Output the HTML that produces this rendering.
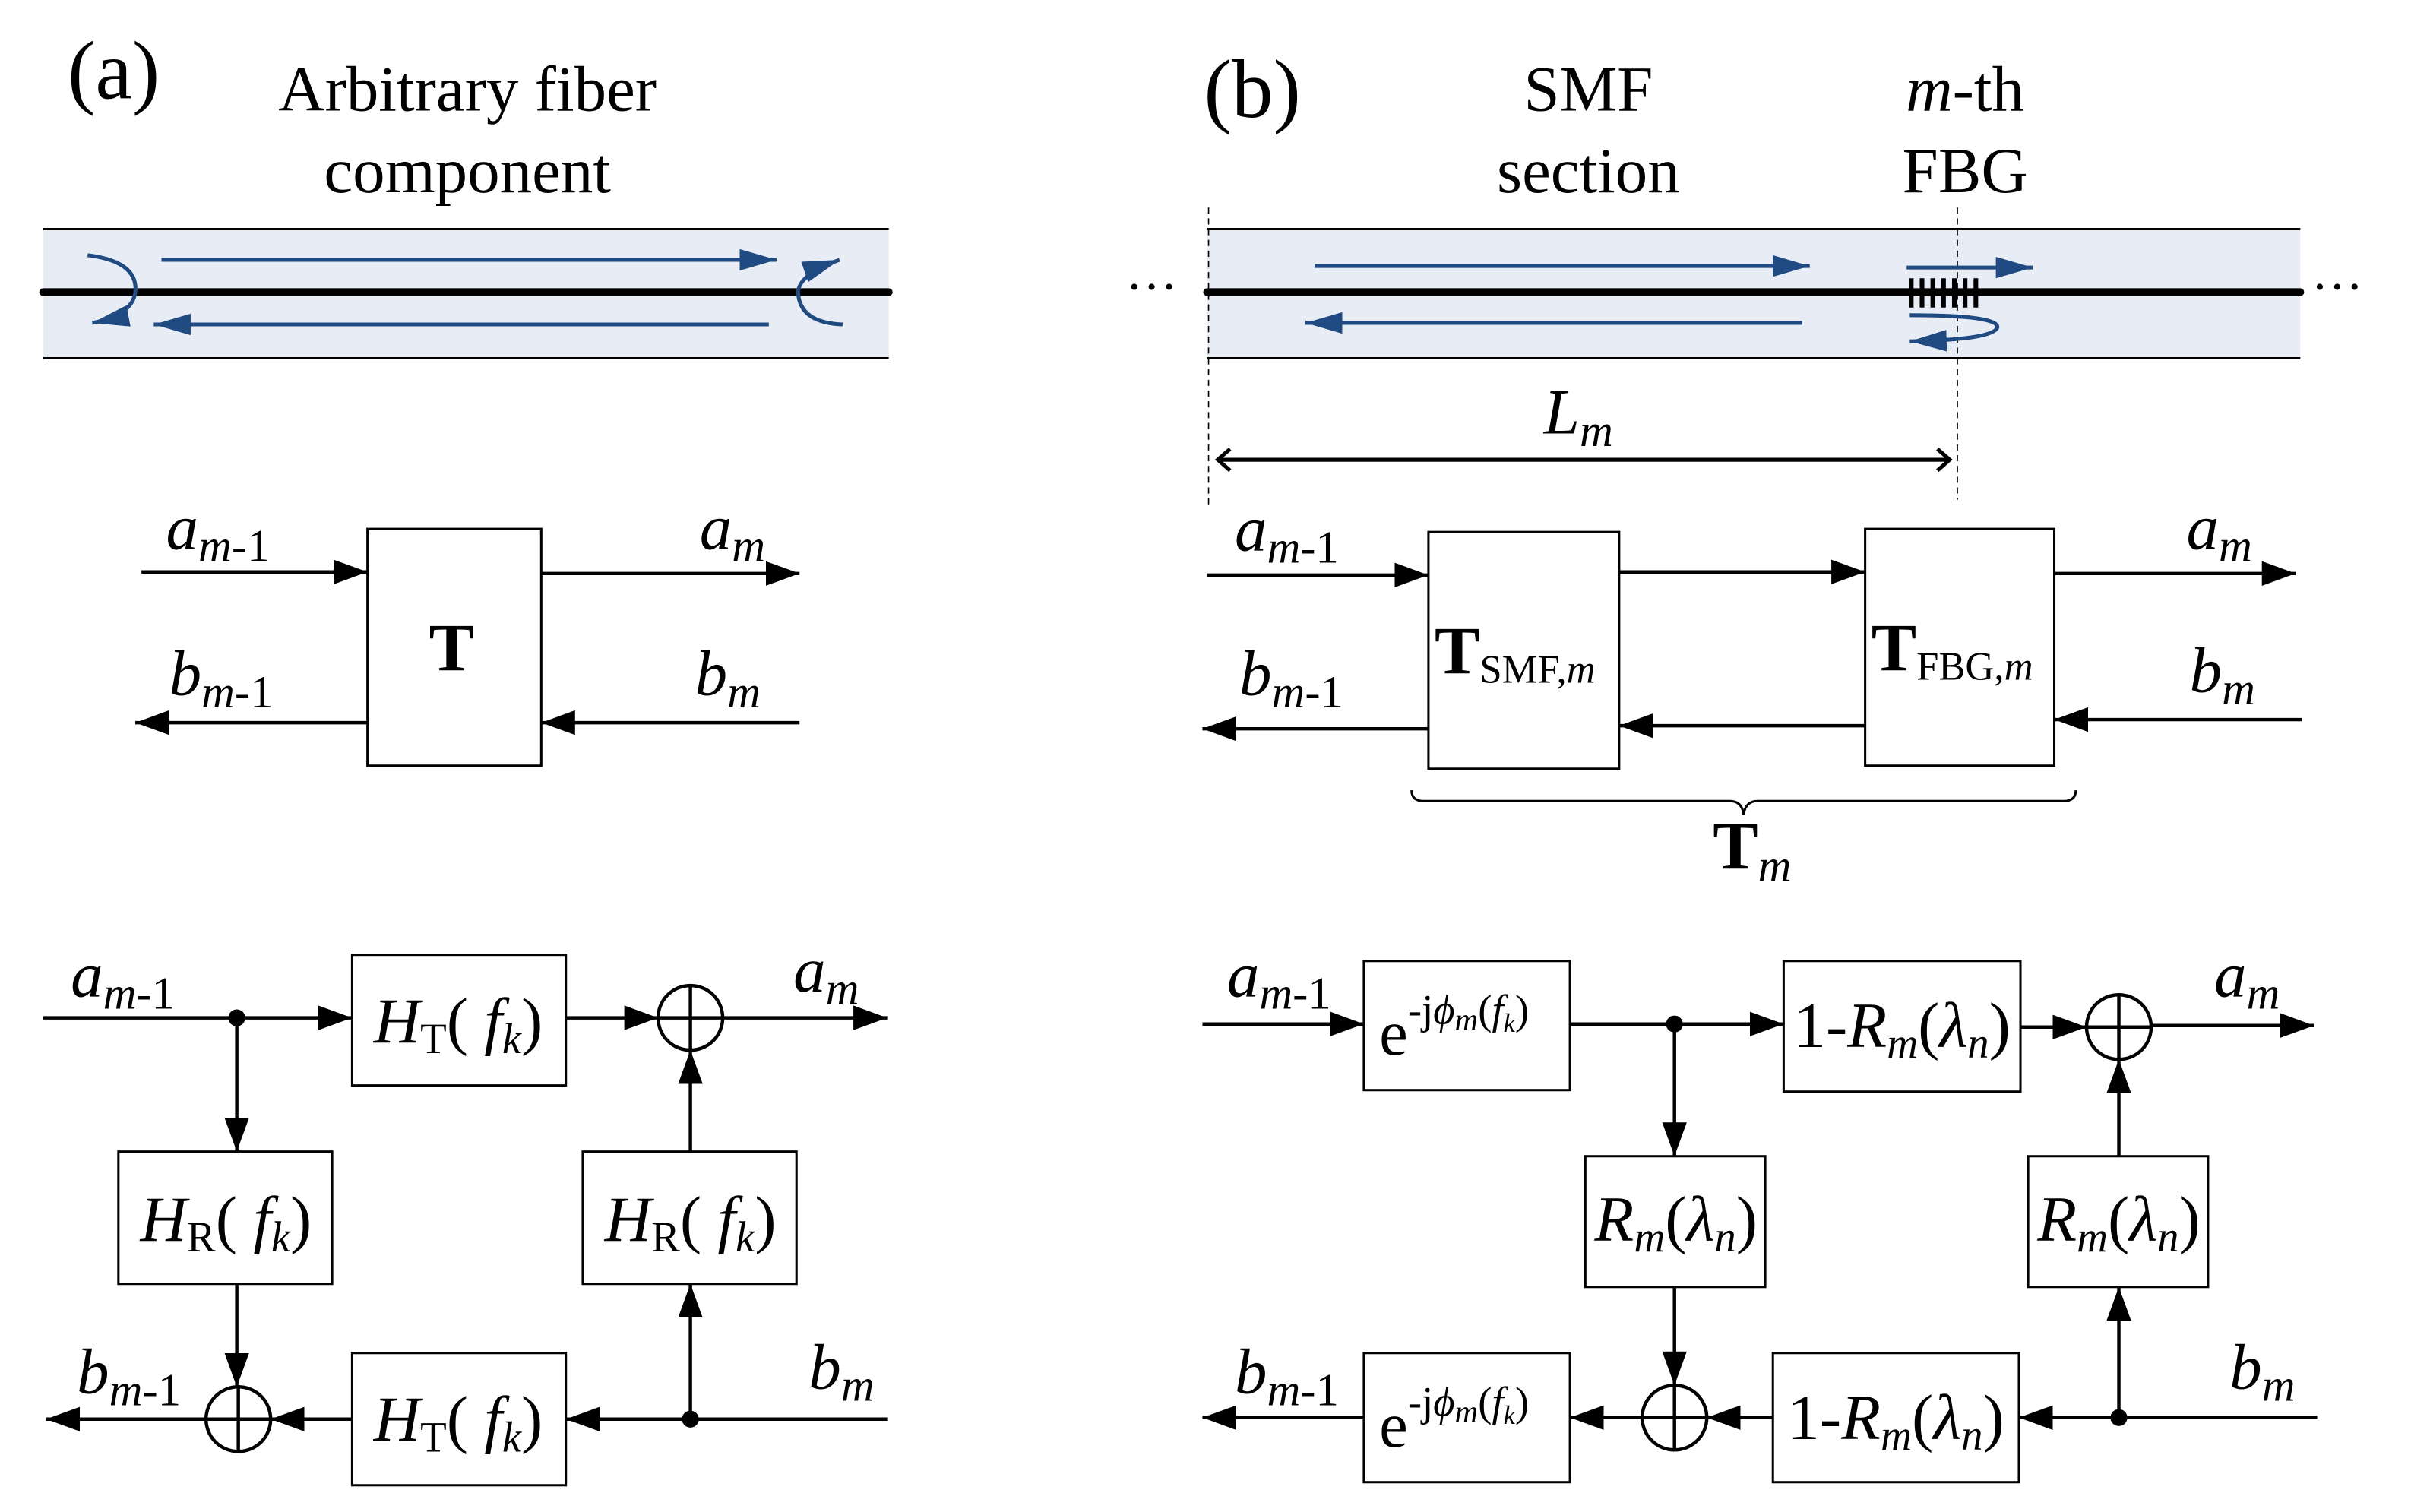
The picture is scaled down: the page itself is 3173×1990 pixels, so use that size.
<!DOCTYPE html>
<html><head><meta charset="utf-8"><style>
html,body{margin:0;padding:0;background:#fff}
svg{display:block}
text{font-family:"Liberation Serif","Times New Roman",serif;fill:#000}
.i{font-style:italic}
</style></head><body>
<svg width="3173" height="1990" viewBox="0 0 1568 983.4" preserveAspectRatio="none" xmlns="http://www.w3.org/2000/svg">
<defs>
<marker id="ah" markerUnits="userSpaceOnUse" markerWidth="24" markerHeight="18" refX="22" refY="9" orient="auto"><path d="M0,1 L22,9 L0,17 z" fill="#000"/></marker>
<marker id="bh" markerUnits="userSpaceOnUse" markerWidth="26" markerHeight="16" refX="24" refY="8" orient="auto"><path d="M0,1 L24,8 L0,15 z" fill="#1f4a82"/></marker>
<marker id="ch" markerUnits="userSpaceOnUse" markerWidth="14" markerHeight="16" refX="10" refY="8" orient="auto"><path d="M2,1 L10,8 L2,15" fill="none" stroke="#000" stroke-width="2.5"/></marker>
</defs>
<g stroke="#000" stroke-width="2.2" fill="none">
<rect x="28" y="149" width="550" height="84" fill="#e8edf5" stroke="none"/>
<line x1="28" y1="149" x2="578" y2="149" stroke-width="1.5"/>
<line x1="28" y1="233" x2="578" y2="233" stroke-width="1.5"/>
<line x1="28" y1="190" x2="578" y2="190" stroke-width="5" stroke-linecap="round"/>
<g stroke="#1f4a82" stroke-width="2.5">
<line x1="105" y1="169" x2="505" y2="169" marker-end="url(#bh)"/>
<line x1="500" y1="211" x2="100" y2="211" marker-end="url(#bh)"/>
<path d="M57,166 Q90,170 88,190 Q86,205 60,210" marker-end="url(#bh)"/>
<path d="M548,211 Q520,210 519,190 Q520,178 546,169" marker-end="url(#bh)"/>
</g>
<rect x="239" y="344" width="113" height="154" stroke-width="1.5"/>
<line x1="92" y1="372" x2="239" y2="372" marker-end="url(#ah)"/>
<line x1="352" y1="373" x2="520" y2="373" marker-end="url(#ah)"/>
<line x1="239" y1="470" x2="88" y2="470" marker-end="url(#ah)"/>
<line x1="520" y1="470" x2="352" y2="470" marker-end="url(#ah)"/>
<rect x="229" y="621" width="139" height="85" stroke-width="1.5"/>
<rect x="77" y="749" width="139" height="86" stroke-width="1.5"/>
<rect x="379" y="749" width="139" height="86" stroke-width="1.5"/>
<rect x="229" y="880" width="139" height="86" stroke-width="1.5"/>
<circle cx="449" cy="662" r="21"/><line x1="428" y1="662" x2="470" y2="662"/><line x1="449" y1="641" x2="449" y2="683"/>
<circle cx="155" cy="923" r="21"/><line x1="134" y1="923" x2="176" y2="923"/><line x1="155" y1="902" x2="155" y2="944"/>
<line x1="28" y1="662" x2="229" y2="662" marker-end="url(#ah)"/>
<line x1="154" y1="662" x2="154" y2="749" marker-end="url(#ah)"/>
<line x1="368" y1="662" x2="428" y2="662" marker-end="url(#ah)"/>
<line x1="470" y1="662" x2="577" y2="662" marker-end="url(#ah)"/>
<line x1="449" y1="749" x2="449" y2="683" marker-end="url(#ah)"/>
<line x1="577" y1="923" x2="368" y2="923" marker-end="url(#ah)"/>
<line x1="449" y1="923" x2="449" y2="835" marker-end="url(#ah)"/>
<line x1="229" y1="923" x2="176" y2="923" marker-end="url(#ah)"/>
<line x1="134" y1="923" x2="30" y2="923" marker-end="url(#ah)"/>
<line x1="154" y1="835" x2="154" y2="902" marker-end="url(#ah)"/>
<rect x="785" y="149" width="711" height="84" fill="#e8edf5" stroke="none"/>
<line x1="785" y1="149" x2="1496" y2="149" stroke-width="1.5"/>
<line x1="785" y1="233" x2="1496" y2="233" stroke-width="1.5"/>
<line x1="785" y1="190" x2="1496" y2="190" stroke-width="5" stroke-linecap="round"/>
<line x1="786" y1="135" x2="786" y2="330" stroke-width="0.8" stroke-dasharray="4,3"/>
<line x1="1273" y1="135" x2="1273" y2="325" stroke-width="0.8" stroke-dasharray="4,3"/>
<g stroke-width="3"><line x1="1243" y1="181" x2="1243" y2="200"/><line x1="1250" y1="181" x2="1250" y2="200"/><line x1="1257" y1="181" x2="1257" y2="200"/><line x1="1264" y1="181" x2="1264" y2="200"/><line x1="1271" y1="181" x2="1271" y2="200"/><line x1="1278" y1="181" x2="1278" y2="200"/><line x1="1285" y1="181" x2="1285" y2="200"/></g>
<g stroke="#1f4a82" stroke-width="2.5">
<line x1="855" y1="173" x2="1177" y2="173" marker-end="url(#bh)"/>
<line x1="1172" y1="210" x2="849" y2="210" marker-end="url(#bh)"/>
<line x1="1240" y1="174" x2="1322" y2="174" marker-end="url(#bh)"/>
<path d="M1242,205 Q1300,205 1299,213 Q1296,221 1242,222" marker-end="url(#bh)"/>
</g>
<line x1="792" y1="299" x2="1268" y2="299" stroke-width="2.5" marker-end="url(#ch)"/>
<line x1="1268" y1="299" x2="792" y2="299" stroke-width="2.5" marker-end="url(#ch)"/>
<rect x="929" y="346" width="124" height="154" stroke-width="1.5"/>
<rect x="1213" y="344" width="123" height="154" stroke-width="1.5"/>
<line x1="785" y1="374" x2="929" y2="374" marker-end="url(#ah)"/>
<line x1="1053" y1="372" x2="1213" y2="372" marker-end="url(#ah)"/>
<line x1="1336" y1="373" x2="1493" y2="373" marker-end="url(#ah)"/>
<line x1="1213" y1="472" x2="1053" y2="472" marker-end="url(#ah)"/>
<line x1="929" y1="474" x2="782" y2="474" marker-end="url(#ah)"/>
<line x1="1497" y1="468" x2="1336" y2="468" marker-end="url(#ah)"/>
<path d="M918,514 Q918,521 926,521 L1125,521 Q1133,521 1134,530 Q1135,521 1143,521 L1342,521 Q1350,521 1350,514" stroke-width="1.5"/>
<rect x="887" y="625" width="134" height="84" stroke-width="1.5"/>
<rect x="1160" y="625" width="154" height="85" stroke-width="1.5"/>
<rect x="1031" y="752" width="117" height="85" stroke-width="1.5"/>
<rect x="1319" y="752" width="117" height="85" stroke-width="1.5"/>
<rect x="887" y="880" width="134" height="84" stroke-width="1.5"/>
<rect x="1153" y="880" width="160" height="84" stroke-width="1.5"/>
<circle cx="1378" cy="668" r="21"/><line x1="1357" y1="668" x2="1399" y2="668"/><line x1="1378" y1="647" x2="1378" y2="689"/>
<circle cx="1089" cy="922" r="21"/><line x1="1068" y1="922" x2="1110" y2="922"/><line x1="1089" y1="901" x2="1089" y2="943"/>
<line x1="782" y1="666" x2="887" y2="666" marker-end="url(#ah)"/>
<line x1="1021" y1="666" x2="1160" y2="666" marker-end="url(#ah)"/>
<line x1="1089" y1="666" x2="1089" y2="752" marker-end="url(#ah)"/>
<line x1="1314" y1="668" x2="1357" y2="668" marker-end="url(#ah)"/>
<line x1="1399" y1="667" x2="1505" y2="667" marker-end="url(#ah)"/>
<line x1="1378" y1="752" x2="1378" y2="689" marker-end="url(#ah)"/>
<line x1="1089" y1="837" x2="1089" y2="901" marker-end="url(#ah)"/>
<line x1="1507" y1="922" x2="1313" y2="922" marker-end="url(#ah)"/>
<line x1="1378" y1="922" x2="1378" y2="837" marker-end="url(#ah)"/>
<line x1="1153" y1="922" x2="1110" y2="922" marker-end="url(#ah)"/>
<line x1="1068" y1="922" x2="1021" y2="922" marker-end="url(#ah)"/>
<line x1="887" y1="922" x2="782" y2="922" marker-end="url(#ah)"/>
</g>
<g fill="#000" stroke="none">
<circle cx="154" cy="662" r="5.5"/><circle cx="449" cy="923" r="5.5"/>
<circle cx="1089" cy="666" r="5.5"/><circle cx="1378" cy="922" r="5.5"/>
</g>
<text x="44" y="64" font-size="54">(a)</text>
<text x="304" y="72" font-size="42" text-anchor="middle">Arbitrary fiber</text>
<text x="304" y="125" font-size="42" text-anchor="middle">component</text>
<text x="783" y="76" font-size="54">(b)</text>
<text x="1033" y="72" font-size="42" text-anchor="middle">SMF</text>
<text x="1033" y="125" font-size="42" text-anchor="middle">section</text>
<text x="1278" y="72" font-size="42" text-anchor="middle"><tspan class="i">m</tspan>-th</text>
<text x="1278" y="125" font-size="42" text-anchor="middle">FBG</text>
<text x="732" y="198" font-size="34">···</text>
<text x="1503" y="198" font-size="34">···</text>
<text x="1004" y="282" font-size="42" class="i">L<tspan font-size="30" dy="8">m</tspan></text>
<text x="279" y="436" font-size="44" font-weight="bold">T</text>
<g font-size="42">
<text x="108" y="357"><tspan class="i">a</tspan><tspan font-size="30" dy="8" class="i">m</tspan><tspan font-size="30">-1</tspan></text>
<text x="455" y="357" class="i">a<tspan font-size="30" dy="8">m</tspan></text>
<text x="110" y="452"><tspan class="i">b</tspan><tspan font-size="30" dy="8" class="i">m</tspan><tspan font-size="30">-1</tspan></text>
<text x="452" y="452" class="i">b<tspan font-size="30" dy="8">m</tspan></text>
<text x="803" y="358"><tspan class="i">a</tspan><tspan font-size="30" dy="8" class="i">m</tspan><tspan font-size="30">-1</tspan></text>
<text x="1422" y="357" class="i">a<tspan font-size="30" dy="8">m</tspan></text>
<text x="806" y="452"><tspan class="i">b</tspan><tspan font-size="30" dy="8" class="i">m</tspan><tspan font-size="30">-1</tspan></text>
<text x="1424" y="450" class="i">b<tspan font-size="30" dy="8">m</tspan></text>
<text x="46" y="648"><tspan class="i">a</tspan><tspan font-size="30" dy="8" class="i">m</tspan><tspan font-size="30">-1</tspan></text>
<text x="516" y="645" class="i">a<tspan font-size="30" dy="8">m</tspan></text>
<text x="50" y="906"><tspan class="i">b</tspan><tspan font-size="30" dy="8" class="i">m</tspan><tspan font-size="30">-1</tspan></text>
<text x="526" y="903" class="i">b<tspan font-size="30" dy="8">m</tspan></text>
<text x="798" y="648"><tspan class="i">a</tspan><tspan font-size="30" dy="8" class="i">m</tspan><tspan font-size="30">-1</tspan></text>
<text x="1440" y="648" class="i">a<tspan font-size="30" dy="8">m</tspan></text>
<text x="803" y="906"><tspan class="i">b</tspan><tspan font-size="30" dy="8" class="i">m</tspan><tspan font-size="30">-1</tspan></text>
<text x="1450" y="903" class="i">b<tspan font-size="30" dy="8">m</tspan></text>
</g>
<text x="933" y="438" font-size="44" font-weight="bold">T<tspan font-size="26" font-weight="normal" dy="6">SMF,</tspan><tspan font-size="26" font-weight="normal" class="i">m</tspan></text>
<text x="1217" y="436" font-size="44" font-weight="bold">T<tspan font-size="26" font-weight="normal" dy="6">FBG,</tspan><tspan font-size="26" font-weight="normal" class="i">m</tspan></text>
<text x="1114" y="565" font-size="44" font-weight="bold">T<tspan font-size="30" font-weight="normal" class="i" dy="8">m</tspan></text>
<g font-size="42">
<text x="298" y="678" text-anchor="middle"><tspan class="i">H</tspan><tspan font-size="28" dy="7">T</tspan><tspan dy="-7">(</tspan><tspan class="i"> f</tspan><tspan font-size="28" class="i" dy="7">k</tspan><tspan dy="-7">)</tspan></text>
<text x="298" y="937" text-anchor="middle"><tspan class="i">H</tspan><tspan font-size="28" dy="7">T</tspan><tspan dy="-7">(</tspan><tspan class="i"> f</tspan><tspan font-size="28" class="i" dy="7">k</tspan><tspan dy="-7">)</tspan></text>
<text x="147" y="807" text-anchor="middle"><tspan class="i">H</tspan><tspan font-size="28" dy="7">R</tspan><tspan dy="-7">(</tspan><tspan class="i"> f</tspan><tspan font-size="28" class="i" dy="7">k</tspan><tspan dy="-7">)</tspan></text>
<text x="449" y="807" text-anchor="middle"><tspan class="i">H</tspan><tspan font-size="28" dy="7">R</tspan><tspan dy="-7">(</tspan><tspan class="i"> f</tspan><tspan font-size="28" class="i" dy="7">k</tspan><tspan dy="-7">)</tspan></text>
<text x="1237" y="681" text-anchor="middle">1-<tspan class="i">R</tspan><tspan font-size="28" class="i" dy="7">m</tspan><tspan dy="-7">(</tspan><tspan class="i">λ</tspan><tspan font-size="28" class="i" dy="7">n</tspan><tspan dy="-7">)</tspan></text>
<text x="1233" y="936" text-anchor="middle">1-<tspan class="i">R</tspan><tspan font-size="28" class="i" dy="7">m</tspan><tspan dy="-7">(</tspan><tspan class="i">λ</tspan><tspan font-size="28" class="i" dy="7">n</tspan><tspan dy="-7">)</tspan></text>
<text x="1090" y="807" text-anchor="middle"><tspan class="i">R</tspan><tspan font-size="28" class="i" dy="7">m</tspan><tspan dy="-7">(</tspan><tspan class="i">λ</tspan><tspan font-size="28" class="i" dy="7">n</tspan><tspan dy="-7">)</tspan></text>
<text x="1378" y="807" text-anchor="middle"><tspan class="i">R</tspan><tspan font-size="28" class="i" dy="7">m</tspan><tspan dy="-7">(</tspan><tspan class="i">λ</tspan><tspan font-size="28" class="i" dy="7">n</tspan><tspan dy="-7">)</tspan></text>
<text x="897" y="686">e<tspan font-size="27" dy="-20">-j</tspan><tspan font-size="27" class="i">ϕ</tspan><tspan font-size="21" class="i" dy="4">m</tspan><tspan font-size="27" dy="-4">(</tspan><tspan font-size="27" class="i">f</tspan><tspan font-size="17" class="i" dy="5">k</tspan><tspan font-size="27" dy="-5">)</tspan></text>
<text x="897" y="941">e<tspan font-size="27" dy="-20">-j</tspan><tspan font-size="27" class="i">ϕ</tspan><tspan font-size="21" class="i" dy="4">m</tspan><tspan font-size="27" dy="-4">(</tspan><tspan font-size="27" class="i">f</tspan><tspan font-size="17" class="i" dy="5">k</tspan><tspan font-size="27" dy="-5">)</tspan></text>
</g>
</svg>
</body></html>
